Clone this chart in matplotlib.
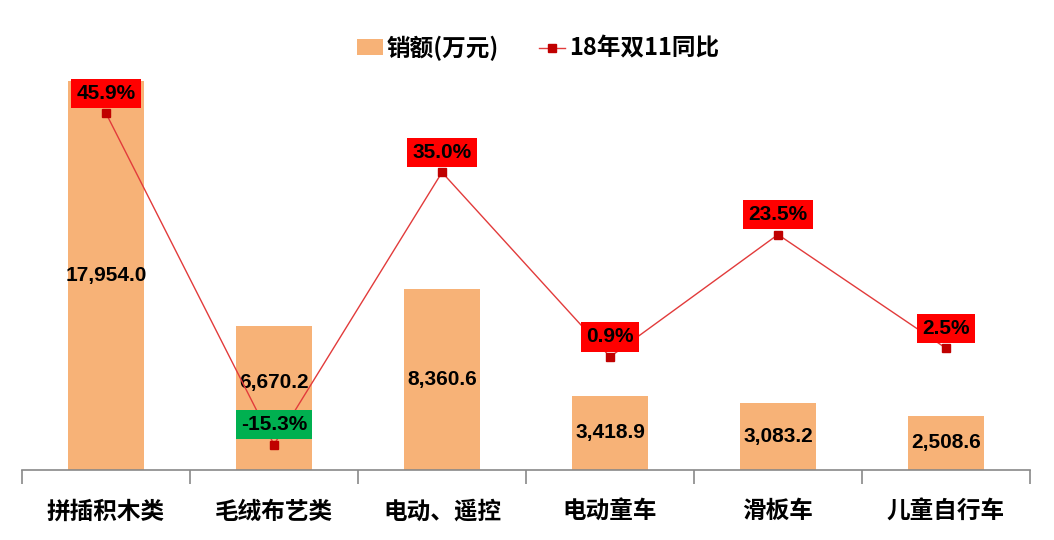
import matplotlib.pyplot as plt
from matplotlib.lines import Line2D
from matplotlib.patches import Patch

plt.rcParams['font.family'] = ['Noto Sans CJK SC', 'DejaVu Sans']

categories = ['拼插积木类', '毛绒布艺类', '电动、遥控', '电动童车', '滑板车', '儿童自行车']
sales = [17954.0, 6670.2, 8360.6, 3418.9, 3083.2, 2508.6]
yoy = [45.9, -15.3, 35.0, 0.9, 23.5, 2.5]
# small manual nudge for the 毛绒布艺类 label so it clears the green box
label_shift = [0, 700, 0, 0, 0, 0]

bar_color = '#F7B277'
num_font = ['Liberation Sans', 'DejaVu Sans']

fig = plt.figure(figsize=(10.54, 5.4), dpi=100)
ax = fig.add_axes([22 / 1054, 70 / 540, 1008 / 1054, 433 / 540])
ax2 = ax.twinx()

x = range(len(categories))
ax.bar(x, sales, width=0.45, color=bar_color, zorder=2)
ax.set_ylim(0, 20000)
ax.set_xlim(-0.5, len(categories) - 0.5)

for i, v in enumerate(sales):
    ax.text(i, v / 2 + label_shift[i], f'{v:,.1f}', ha='center', va='center',
            fontsize=15, fontweight='bold', family=num_font, zorder=5)

ax2.plot(x, yoy, color='#E23B3B', lw=1, marker='s', markersize=6,
         markerfacecolor='#C00000', markeredgecolor='#C00000', zorder=3)
ax2.set_ylim(-20, 60)
for i, v in enumerate(yoy):
    box = '#00B050' if v < 0 else '#FF0000'
    ax2.annotate(f'{v:.1f}%', (i, v), xytext=(0, 20), textcoords='offset pixels',
                 ha='center', va='center', fontsize=15, fontweight='bold',
                 family=num_font, zorder=6,
                 bbox=dict(boxstyle='square,pad=0.25', fc=box, ec='none'))

# axes styling
for a in (ax, ax2):
    for s in ('top', 'right', 'left'):
        a.spines[s].set_visible(False)
    a.set_yticks([])
ax2.spines['bottom'].set_visible(False)
ax.spines['bottom'].set_color('#898989')
ax.spines['bottom'].set_linewidth(1.2)

ax.set_xticks([i - 0.5 for i in range(len(categories) + 1)], minor=False)
ax.set_xticklabels([])
ax.tick_params(axis='x', length=10, color='#898989', width=1.2)
ax.set_xticks(list(x), minor=True)
ax.set_xticklabels(categories, minor=True, fontsize=17, fontweight='bold')
ax.tick_params(axis='x', which='minor', length=0, pad=21)

handles = [Patch(facecolor=bar_color, edgecolor='none'),
           Line2D([], [], color='#E23B3B', lw=1, marker='s', markersize=6,
                  markerfacecolor='#C00000', markeredgecolor='#C00000')]
fig.legend(handles, ['销额(万元)', '18年双11同比'], loc='center',
           bbox_to_anchor=(538 / 1054, 1 - 48 / 540), ncol=2, frameon=False,
           prop={'size': 17, 'weight': 'bold'}, handlelength=1.1,
           handleheight=0.65, handletextpad=0.15, columnspacing=1.7)

fig.savefig('out.png', dpi=100)
